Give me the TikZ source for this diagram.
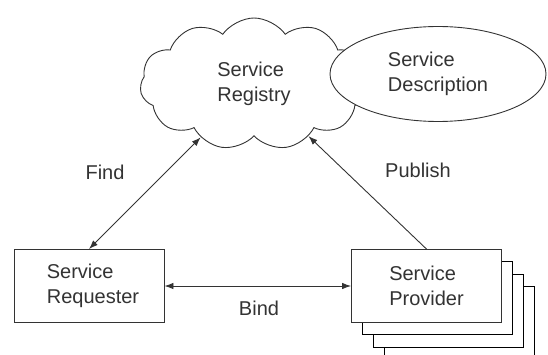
\documentclass[tikz,border=0pt]{standalone}
\usepackage{fontspec}
\setmainfont{Liberation Sans}
\usetikzlibrary{arrows,arrows.meta,backgrounds,positioning,shapes.geometric,shapes.symbols}

\begin{document}
\begin{tikzpicture}[x=1pt, y=1pt, >={Latex[length=9pt,width=6.5pt]}, color=black!80, font=\fontsize{20}{25}\selectfont]
\tikzstyle{veld} = [draw, fill=white, line width=0.9pt, align=left, minimum width=150pt, minimum height=73pt]
\tikzstyle{wolk} = [draw, fill=white, line width=0.9pt, align=left, cloud, cloud puffs=11, cloud puff arc=110, minimum width=228pt, minimum height=132pt]
\tikzstyle{ovaal} = [draw, fill=white, line width=0.9pt, align=left, ellipse, minimum width=216pt, minimum height=95pt]
\tikzstyle{pijl} = [line width=0.9pt]

\useasboundingbox (0,0) rectangle (548,354);

\node [veld] (requester) at (89,68) {\hspace*{8pt}Service\\\hspace*{8pt}Requester};
\node [veld] (provider) [right of=requester, node distance=337.5pt] {Service\\Provider};
\begin{scope}[on background layer]
\foreach \i in {3,2,1}
  \node [veld] (page\i) at ([shift={(\i*11,-\i*12.3)}]provider) {};
\end{scope}

\node [wolk] (registry) at (254,270) {Service\\Registry};
\node [ovaal] (description) at (438,280) {Service\\Description};

\draw [pijl, <->] (registry) -- (requester.north);
\draw [pijl, ->] (provider.north) -- (registry);
\draw [pijl, <->] (requester) -- (provider);

\node (find) at (105,182) {Find};
\node (publish) at (418,184) {Publish};
\node (bind) at (259,46) {Bind};

\end{tikzpicture}
\end{document}
